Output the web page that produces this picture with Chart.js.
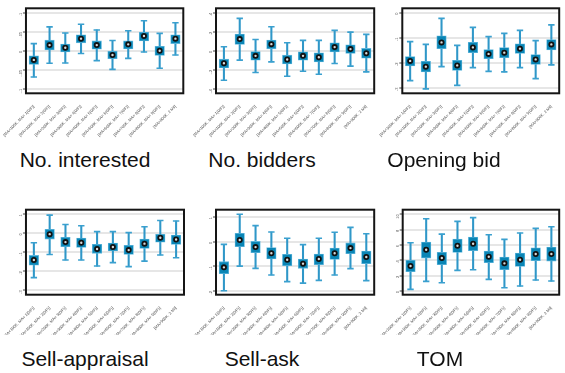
<!DOCTYPE html>
<html>
<head>
<meta charset="utf-8">
<script src="https://cdn.jsdelivr.net/npm/chart.js@4"></script>
<style>
  body { margin: 0; background: #fff; }
  #wrap { position: relative; width: 565px; height: 373px; overflow: hidden; }
  .panel { position: absolute; }
  .title { position: absolute; width: 200px; text-align: center; font-family: "Liberation Sans", Arial, sans-serif; font-size: 21px; line-height: 21px; color: #111; }
</style>
</head>
<body>
<div id="wrap"></div>
<script>
// categories (same for every panel)
const categories = [
  "[MA<100K, MA= 1(0/F)]", "[MA=100K, MA= 2(0/F)]", "[MA=200K, MA= 3(0/F)]",
  "[MA=300K, MA= 4(0/F)]", "[MA=400K, MA= 5(0/F)]", "[MA=500K, MA= 6(0/F)]",
  "[MA=600K, MA= 7(0/F)]", "[MA=700K, MA= 8(0/F)]", "[MA=800K, MA= 9(0/F)]",
  "[MA>900K, 2 Mil]"
];

// No. interested
const interestedLo  = [-0.069, -0.033, -0.032, -0.007, -0.026, -0.049, -0.020, -0.003, -0.046, -0.011];
const interestedQ1  = [-0.036, 0.002, -0.003, 0.021, 0.004, -0.021, 0.005, 0.026, -0.012, 0.019];
const interestedMed = [-0.024, 0.015, 0.008, 0.032, 0.015, -0.011, 0.017, 0.039, 0.000, 0.032];
const interestedQ3  = [-0.013, 0.028, 0.018, 0.042, 0.026, -0.001, 0.026, 0.049, 0.012, 0.042];
const interestedHi  = [0.019, 0.063, 0.047, 0.070, 0.055, 0.027, 0.053, 0.079, 0.046, 0.074];
const interestedTicks = [-0.1, -0.05, 0, 0.05, 0.1];
const interestedTickLabels = ["-.1", "-.05", "0", ".05", ".1"];

// No. bidders
const biddersLo  = [-0.309, -0.098, -0.228, -0.116, -0.267, -0.214, -0.246, -0.133, -0.161, -0.221];
const biddersQ1  = [-0.179, 0.067, -0.098, 0.021, -0.137, -0.098, -0.116, -0.011, -0.028, -0.077];
const biddersMed = [-0.130, 0.123, -0.053, 0.070, -0.091, -0.053, -0.067, 0.039, 0.018, -0.025];
const biddersQ3  = [-0.088, 0.175, -0.007, 0.112, -0.046, -0.011, -0.021, 0.084, 0.063, 0.025];
const biddersHi  = [0.042, 0.340, 0.119, 0.253, 0.084, 0.109, 0.109, 0.214, 0.196, 0.172];
const biddersTicks = [-0.4, -0.2, 0, 0.2, 0.4];
const biddersTickLabels = ["-.4", "-.2", "0", ".2", ".4"];

// Opening bid
const openingLo  = [-2.72, -3.05, -2.16, -2.91, -2.20, -2.35, -2.37, -2.20, -2.64, -2.09];
const openingQ1  = [-2.13, -2.37, -1.44, -2.31, -1.60, -1.84, -1.80, -1.63, -2.07, -1.49];
const openingMed = [-1.93, -2.16, -1.19, -2.11, -1.39, -1.65, -1.60, -1.44, -1.87, -1.27];
const openingQ3  = [-1.76, -1.95, -0.93, -1.91, -1.19, -1.48, -1.40, -1.25, -1.68, -1.08];
const openingHi  = [-1.16, -1.27, -0.23, -1.31, -0.59, -0.96, -0.83, -0.71, -1.12, -0.49];
const openingTicks = [-3, -2, -1, 0];
const openingTickLabels = ["-3", "-2", "-1", "0"];

// Sell-appraisal
const appraisalLo  = [-2.33, -1.11, -1.40, -1.40, -1.72, -1.54, -1.75, -1.46, -1.14, -1.28];
const appraisalQ1  = [-1.67, -0.30, -0.70, -0.74, -1.05, -0.93, -1.11, -0.79, -0.46, -0.58];
const appraisalMed = [-1.40, -0.04, -0.46, -0.49, -0.82, -0.72, -0.88, -0.54, -0.23, -0.32];
const appraisalQ3  = [-1.16, 0.21, -0.21, -0.25, -0.58, -0.51, -0.63, -0.30, 0.00, -0.09];
const appraisalHi  = [-0.49, 0.96, 0.47, 0.40, 0.09, 0.09, 0.04, 0.35, 0.68, 0.65];
const appraisalTicks = [-3, -2, -1, 0, 1];
const appraisalTickLabels = ["-3", "-2", "-1", "0", "1"];

// Sell-ask
const askLo  = [-1.99, -0.99, -1.08, -1.35, -1.62, -1.68, -1.57, -1.35, -1.09, -1.58];
const askQ1  = [-1.30, -0.20, -0.45, -0.70, -0.97, -1.08, -0.93, -0.72, -0.49, -0.89];
const askMed = [-1.04, 0.07, -0.22, -0.47, -0.73, -0.89, -0.70, -0.47, -0.26, -0.62];
const askQ3  = [-0.81, 0.34, 0.01, -0.24, -0.51, -0.70, -0.50, -0.26, -0.05, -0.38];
const askHi  = [-0.11, 1.11, 0.65, 0.39, 0.14, -0.12, 0.14, 0.38, 0.58, 0.32];
const askTicks = [-2, -1, 0, 1];
const askTickLabels = ["-2", "-1", "0", "1"];

// TOM
const tomLo  = [0.22, 1.26, 1.09, 2.70, 2.78, 1.52, 0.43, 0.65, 1.43, 1.30];
const tomQ1  = [2.52, 4.30, 3.43, 5.04, 5.26, 3.70, 2.78, 3.22, 3.96, 3.91];
const tomMed = [3.26, 5.39, 4.30, 5.91, 6.17, 4.48, 3.61, 4.09, 4.83, 4.83];
const tomQ3  = [4.00, 6.39, 5.04, 6.78, 7.04, 5.22, 4.43, 4.96, 5.65, 5.74];
const tomHi  = [6.30, 9.43, 7.43, 9.09, 9.57, 7.35, 6.74, 7.57, 8.17, 8.39];
const tomTicks = [0, 2, 4, 6, 8, 10];
const tomTickLabels = ["0", "2", "4", "6", "8", "10"];

const panels = [
  { title: "No. interested", cx: 85,  ty: 149, box: [0, 0, 190, 140],   area: [19.3, 8.3, 183.3, 93.3],
    d: [interestedLo, interestedQ1, interestedMed, interestedQ3, interestedHi], ticks: interestedTicks, labels: interestedTickLabels, min: -0.112, max: 0.112 },
  { title: "No. bidders",    cx: 262, ty: 149, box: [190, 0, 190, 140], area: [21, 8.3, 184.3, 93.3],
    d: [biddersLo, biddersQ1, biddersMed, biddersQ3, biddersHi], ticks: biddersTicks, labels: biddersTickLabels, min: -0.446, max: 0.446 },
  { title: "Opening bid",    cx: 444, ty: 149, box: [375, 0, 190, 140], area: [27.3, 8.3, 188.5, 93.3],
    d: [openingLo, openingQ1, openingMed, openingQ3, openingHi], ticks: openingTicks, labels: openingTickLabels, min: -3.227, max: 0.173 },
  { title: "Sell-appraisal", cx: 85,  ty: 348, box: [0, 195, 190, 140], area: [20, 14.7, 184, 99.7],
    d: [appraisalLo, appraisalQ1, appraisalMed, appraisalQ3, appraisalHi], ticks: appraisalTicks, labels: appraisalTickLabels, min: -3.228, max: 1.246 },
  { title: "Sell-ask",       cx: 262, ty: 348, box: [190, 195, 190, 140], area: [21, 14.7, 185, 99.7],
    d: [askLo, askQ1, askMed, askQ3, askHi], ticks: askTicks, labels: askTickLabels, min: -2.149, max: 1.297 },
  { title: "TOM",            cx: 440, ty: 348, box: [375, 195, 190, 140], area: [27.7, 14.7, 185.3, 99.7],
    d: [tomLo, tomQ1, tomMed, tomQ3, tomHi], ticks: tomTicks, labels: tomTickLabels, min: -0.478, max: 10.61 }
];

// black frame round the plot area
const framePlugin = {
  id: 'frame',
  afterDraw(chart) {
    const { ctx, chartArea: a } = chart;
    ctx.save();
    ctx.strokeStyle = '#151515';
    ctx.lineWidth = 2;
    ctx.strokeRect(a.left, a.top, a.right - a.left, a.bottom - a.top);
    ctx.restore();
  }
};

const wrap = document.getElementById('wrap');

panels.forEach(p => {
  const [bx, by, bw, bh] = p.box;
  const [al, at, ar, ab] = p.area;
  const div = document.createElement('div');
  div.className = 'panel';
  div.style.left = bx + 'px';
  div.style.top = by + 'px';
  const canvas = document.createElement('canvas');
  canvas.width = bw;
  canvas.height = bh;
  div.appendChild(canvas);
  wrap.appendChild(div);

  const t = document.createElement('div');
  t.className = 'title';
  t.style.left = (p.cx - 100) + 'px';
  t.style.top = p.ty + 'px';
  t.textContent = p.title;
  wrap.appendChild(t);

  const [lo, q1, med, q3, hi] = p.d;
  new Chart(canvas, {
    data: {
      labels: categories,
      datasets: [
        { type: 'line', data: med, showLine: false, pointStyle: 'circle', pointRadius: 2.1,
          pointBackgroundColor: '#d8d8d8', pointBorderColor: '#111', pointBorderWidth: 1.8, order: 0 },
        { type: 'line', data: hi, showLine: false, pointStyle: 'line', pointRadius: 3.2,
          pointBorderColor: '#3aa0cf', pointBorderWidth: 1.6, order: 1 },
        { type: 'line', data: lo, showLine: false, pointStyle: 'line', pointRadius: 3.2,
          pointBorderColor: '#3aa0cf', pointBorderWidth: 1.6, order: 1 },
        { type: 'bar', data: q1.map((v, i) => [v, q3[i]]), grouped: false, barThickness: 9.5,
          backgroundColor: '#0a85b5', borderColor: '#5fb6dc', borderWidth: 0.8, borderSkipped: false, order: 2 },
        { type: 'bar', data: lo.map((v, i) => [v, hi[i]]), grouped: false, barThickness: 1.4,
          backgroundColor: '#2f97c8', order: 3 }
      ]
    },
    options: {
      responsive: false,
      animation: false,
      devicePixelRatio: 1,
      layout: { padding: { left: 0, top: at, right: bw - ar, bottom: 0 } },
      plugins: { legend: { display: false }, tooltip: { enabled: false } },
      scales: {
        x: {
          type: 'category',
          grid: { display: false },
          border: { display: false },
          ticks: { autoSkip: false, minRotation: 45, maxRotation: 45, padding: 3,
                   font: { family: 'Liberation Sans', size: 4 }, color: '#444' },
          afterFit: s => { s.height = bh - ab; }
        },
        y: {
          min: p.min, max: p.max,
          grid: { color: '#e6e6e6', lineWidth: 2, tickColor: '#444', tickLength: 3, tickWidth: 1 },
          border: { display: false },
          ticks: { minRotation: 90, maxRotation: 90, padding: 2,
                   font: { family: 'Liberation Sans', size: 4 }, color: '#555',
                   callback: v => { const k = p.ticks.findIndex(x => Math.abs(x - v) < 1e-9); return k >= 0 ? p.labels[k] : ''; } },
          afterBuildTicks: s => { s.ticks = p.ticks.map(v => ({ value: v })); },
          afterFit: s => { s.width = al; }
        }
      }
    },
    plugins: [framePlugin]
  });
});
</script>
</body>
</html>
